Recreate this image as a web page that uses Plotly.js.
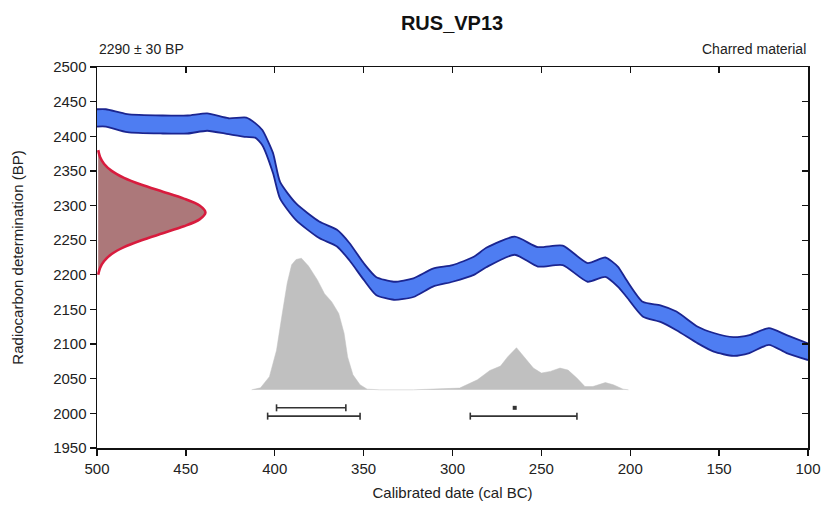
<!DOCTYPE html>
<html>
<head>
<meta charset="utf-8">
<script src="https://cdn.plot.ly/plotly-3.0.1.min.js"></script>
<style>html,body{margin:0;padding:0;background:#fff;}#chart{width:823px;height:507px;}</style>
</head>
<body>
<div id="chart"></div>
<script>
// ---- data ----
const sampleName = 'RUS_VP13';
const measurementLabel = '2290 ± 30 BP';
const materialLabel = 'Charred material';

// calibration curve band (cal BC, upper and lower edge in BP)
const calYears = [500, 495, 483, 463, 449, 438, 426, 416, 411, 407, 401, 397, 388, 375, 365, 358, 350, 343, 333, 322, 311, 300, 288, 281, 265, 252, 238, 224, 214, 207, 202, 193, 183, 174, 162, 153, 142, 133, 122, 112, 100];
const curveUpper = [2439, 2439, 2432, 2430, 2430, 2433, 2426, 2427, 2419, 2409, 2376, 2334, 2303, 2277, 2265, 2246, 2217, 2197, 2190, 2195, 2209, 2214, 2226, 2239, 2255, 2240, 2242, 2217, 2225, 2212, 2192, 2161, 2156, 2147, 2125, 2116, 2110, 2113, 2123, 2113, 2101];
const curveLower = [2414, 2414, 2406, 2404, 2404, 2408, 2403, 2399, 2398, 2387, 2347, 2310, 2279, 2253, 2241, 2221, 2193, 2171, 2164, 2168, 2183, 2190, 2200, 2211, 2229, 2212, 2214, 2190, 2197, 2183, 2168, 2140, 2132, 2120, 2101, 2089, 2083, 2087, 2099, 2087, 2077];

// radiocarbon measurement distribution (BP, relative density)
const measBP = [2200, 2210, 2220, 2230, 2240, 2250, 2260, 2270, 2280, 2290, 2300, 2310, 2320, 2330, 2340, 2350, 2360, 2370, 2380];
const measDensity = [0.011, 0.028, 0.066, 0.135, 0.249, 0.411, 0.607, 0.801, 0.946, 1.0, 0.946, 0.801, 0.607, 0.411, 0.249, 0.135, 0.066, 0.028, 0.011];

// calibrated date distribution (cal BC, relative probability)
const postYears = [413, 408, 403, 399, 396, 393, 390.5, 388, 385, 381, 376, 372, 368, 364, 361, 359, 356, 352, 348, 341, 322, 310, 296, 286, 279, 273, 269, 264, 259, 254.5, 250, 245, 239.5, 235, 230, 225.5, 221, 214, 209.5, 204, 201];
const postDensity = [0, 0.015, 0.10, 0.30, 0.56, 0.81, 0.95, 0.99, 1.0, 0.94, 0.835, 0.73, 0.67, 0.58, 0.43, 0.25, 0.114, 0.038, 0.005, 0, 0, 0.004, 0.013, 0.076, 0.147, 0.18, 0.25, 0.32, 0.24, 0.165, 0.127, 0.14, 0.165, 0.15, 0.089, 0.025, 0.025, 0.055, 0.038, 0.005, 0];

// highest probability ranges (cal BC)
const range68From = [399, 266];
const range68To = [360, 264];
const range95From = [404, 290];
const range95To = [352, 230];

const xTicks = [500, 450, 400, 350, 300, 250, 200, 150, 100];
const yTicks = [1950, 2000, 2050, 2100, 2150, 2200, 2250, 2300, 2350, 2400, 2450, 2500];

// ---- drawing ----
const FONT = 'Liberation Sans, Arial, sans-serif';
const measWidth = 61;      // horizontal extent of measurement curve (years)
const postBase = 2034;     // baseline of calibrated distribution (BP units)
const postHeight = 190;    // height of calibrated distribution peak (BP units)
const y68 = 2008, y95 = 1996;

const traces = [];

traces.push({x: calYears, y: curveUpper, mode: 'lines', line: {color: '#1b2590', width: 1.8, shape: 'spline', smoothing: 0.6}, hoverinfo: 'skip', showlegend: false});
traces.push({x: calYears, y: curveLower, mode: 'lines', fill: 'tonexty', fillcolor: 'rgb(78,125,242)', line: {color: '#1b2590', width: 1.8, shape: 'spline', smoothing: 0.6}, hoverinfo: 'skip', showlegend: false});

traces.push({
  x: measDensity.map(d => 500 - d * measWidth), y: measBP,
  mode: 'lines', fill: 'toself', fillcolor: 'rgb(172,120,122)',
  line: {color: '#d81c3e', width: 2.6, shape: 'spline', smoothing: 0.8},
  hoverinfo: 'skip', showlegend: false
});

traces.push({
  x: postYears, y: postDensity.map(d => postBase + d * postHeight),
  mode: 'lines', fill: 'toself', fillcolor: 'rgb(192,192,192)',
  line: {color: 'rgb(192,192,192)', width: 0.5},
  hoverinfo: 'skip', showlegend: false
});

function addRanges(from, to, yv) {
  for (let i = 0; i < from.length; i++) {
    if (Math.abs(from[i] - to[i]) < 4) {
      traces.push({
        x: [(from[i] + to[i]) / 2], y: [yv], mode: 'markers',
        marker: {symbol: 'square', size: 4, color: '#333'},
        hoverinfo: 'skip', showlegend: false
      });
    } else {
      traces.push({
        x: [from[i], to[i]], y: [yv, yv], mode: 'lines+markers',
        line: {color: '#333', width: 1.6},
        marker: {symbol: 'line-ns-open', size: 5, color: '#333', line: {width: 1.6, color: '#333'}},
        hoverinfo: 'skip', showlegend: false
      });
    }
  }
}
addRanges(range68From, range68To, y68);
addRanges(range95From, range95To, y95);

// dummy trace to activate mirror axes
traces.push({x: [300], y: [2200], xaxis: 'x2', yaxis: 'y2', mode: 'markers', marker: {opacity: 0}, hoverinfo: 'skip', showlegend: false});

const axisCommon = {showgrid: false, zeroline: false, showline: true, linecolor: '#111', linewidth: 1.5, tickcolor: '#111', tickwidth: 1.3, ticklen: 6};

const layout = {
  width: 823, height: 507,
  margin: {l: 97, r: 15, t: 67, b: 59},
  paper_bgcolor: '#fff', plot_bgcolor: '#fff',
  font: {family: FONT, color: '#222', size: 15},
  title: {text: '<b>' + sampleName + '</b>', x: 0.5493, xanchor: 'center', y: 0.955, yanchor: 'middle', font: {family: FONT, size: 20, color: '#111'}},
  xaxis: Object.assign({}, axisCommon, {
    range: [500, 100], tickmode: 'array', tickvals: xTicks, ticks: 'outside',
    tickfont: {size: 15, color: '#222'},
    title: {text: 'Calibrated date (cal BC)', font: {size: 15, color: '#222'}, standoff: 12}
  }),
  yaxis: Object.assign({}, axisCommon, {
    range: [1950, 2500], tickmode: 'array', tickvals: yTicks, ticks: 'outside',
    tickfont: {size: 15, color: '#222'},
    title: {text: 'Radiocarbon determination (BP)', font: {size: 15, color: '#222'}, standoff: 26}
  }),
  xaxis2: Object.assign({}, axisCommon, {overlaying: 'x', side: 'top', anchor: 'y2', range: [500, 100], tickmode: 'array', tickvals: xTicks, ticks: 'inside', showticklabels: false}),
  yaxis2: Object.assign({}, axisCommon, {overlaying: 'y', side: 'right', anchor: 'x2', range: [1950, 2500], tickmode: 'array', tickvals: yTicks, ticks: 'inside', showticklabels: false}),
  annotations: [
    {text: measurementLabel, xref: 'paper', yref: 'paper', x: 0, y: 1, xanchor: 'left', yanchor: 'bottom', yshift: 8, showarrow: false, font: {size: 14, color: '#222'}},
    {text: materialLabel, xref: 'paper', yref: 'paper', x: 1, y: 1, xanchor: 'right', yanchor: 'bottom', yshift: 8, showarrow: false, font: {size: 14, color: '#222'}}
  ]
};

Plotly.newPlot('chart', traces, layout, {displayModeBar: false, staticPlot: true});
</script>
</body>
</html>
